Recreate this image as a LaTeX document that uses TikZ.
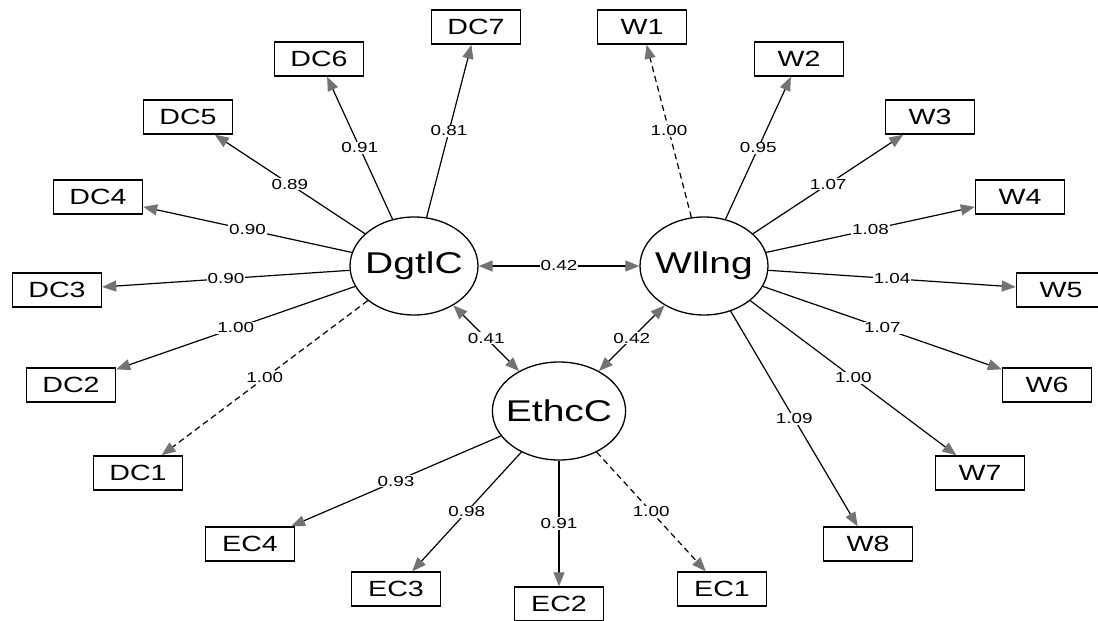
\documentclass[tikz,border=0pt]{standalone}
\usepackage{fontspec}
\setmainfont{Liberation Sans}[FakeStretch=1.3]
\usepackage{xcolor}
\usepackage{tikz}
\usetikzlibrary{arrows.meta,shapes.geometric}

\tikzset{
  ind/.style={draw, line width=1.4pt, minimum width=89pt, minimum height=34pt, inner sep=0pt,
    font=\fontsize{22}{22}\selectfont},
  lat/.style={draw, ellipse, line width=1.3pt, minimum width=128pt, minimum height=98pt,
    inner xsep=-6pt, inner ysep=0pt, font=\fontsize{30}{30}\selectfont},
  load/.style={line width=1.2pt, -{Triangle[length=14pt,width=11pt,color=black!55]}},
  fixed/.style={load, dashed, dash pattern=on 6pt off 4pt},
  cov/.style={line width=1.2pt, {Triangle[length=14pt,width=11pt,color=black!55]}-{Triangle[length=14pt,width=11pt,color=black!55]}},
  coef/.style={fill=white, inner sep=1pt, font=\fontsize{14.5}{14.5}\selectfont}
}

\begin{document}
\begin{tikzpicture}[x=1pt, y=-1pt]
\useasboundingbox (0,0) rectangle (1098,621);
\clip (0,0) rectangle (1098,621);

% latent variables
\node (dgtl) at (414,266) [lat]{DgtlC};
\node (wllng) at (704,266) [lat]{Wllng};
\node (ethc) at (559,411) [lat]{EthcC};

% indicators
\node (dc7) at (476,27) [ind]{DC7};
\node (dc6) at (319,59) [ind]{DC6};
\node (dc5) at (188,117) [ind]{DC5};
\node (dc4) at (98,197) [ind]{DC4};
\node (dc3) at (57,290) [ind]{DC3};
\node (dc2) at (71,385) [ind]{DC2};
\node (dc1) at (138,473) [ind]{DC1};

\node (w1) at (642,27) [ind]{W1};
\node (w2) at (799,59) [ind]{W2};
\node (w3) at (930,117) [ind]{W3};
\node (w4) at (1020,197) [ind]{W4};
\node (w5) at (1061,290) [ind]{W5};
\node (w6) at (1047,385) [ind]{W6};
\node (w7) at (980,473) [ind]{W7};
\node (w8) at (868,544) [ind]{W8};

\node (ec4) at (250,544) [ind]{EC4};
\node (ec3) at (396,589) [ind]{EC3};
\node (ec2) at (559,604) [ind]{EC2};
\node (ec1) at (722,589) [ind]{EC1};

% loadings
\draw[load] (dgtl) -- node[coef]{0.81} (dc7);
\draw[load] (dgtl) -- node[coef]{0.91} (dc6);
\draw[load] (dgtl) -- node[coef]{0.89} (dc5);
\draw[load] (dgtl) -- node[coef]{0.90} (dc4);
\draw[load] (dgtl) -- node[coef]{0.90} (dc3);
\draw[load] (dgtl) -- node[coef]{1.00} (dc2);
\draw[fixed] (dgtl) -- node[coef]{1.00} (dc1);

\draw[fixed] (wllng) -- node[coef]{1.00} (w1);
\draw[load] (wllng) -- node[coef]{0.95} (w2);
\draw[load] (wllng) -- node[coef]{1.07} (w3);
\draw[load] (wllng) -- node[coef]{1.08} (w4);
\draw[load] (wllng) -- node[coef]{1.04} (w5);
\draw[load] (wllng) -- node[coef]{1.07} (w6);
\draw[load] (wllng) -- node[coef]{1.00} (w7);
\draw[load] (wllng) -- node[coef]{1.09} (w8);

\draw[load] (ethc) -- node[coef]{0.93} (ec4);
\draw[load] (ethc) -- node[coef]{0.98} (ec3);
\draw[load] (ethc) -- node[coef]{0.91} (ec2);
\draw[fixed] (ethc) -- node[coef]{1.00} (ec1);

% covariances
\draw[cov] (dgtl) -- node[coef]{0.42} (wllng);
\draw[cov] (dgtl) -- node[coef]{0.41} (ethc);
\draw[cov] (wllng) -- node[coef]{0.42} (ethc);

\end{tikzpicture}
\end{document}
